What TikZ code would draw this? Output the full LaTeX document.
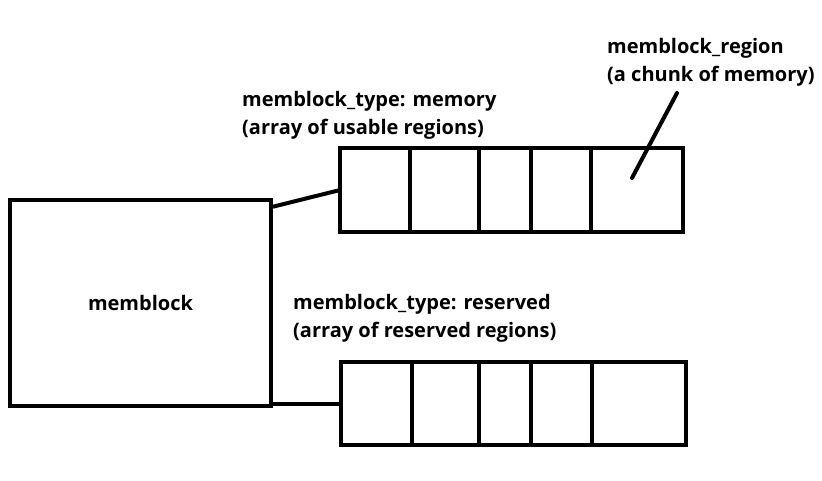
\documentclass[tikz,border=0pt]{standalone}
\usepackage{fontspec}
\setmainfont{Open Sans}
\usetikzlibrary{ positioning, % For easy node-relative placements
               }
\tikzstyle{cell} = [rectangle, draw=black, line width=4pt, outer sep=0pt, inner sep=0pt]
\tikzstyle{block} = [rectangle, draw=black, line width=4pt, minimum width=261pt, minimum height=206pt, font=\bfseries\fontsize{20}{28}\selectfont]
\tikzstyle{note} = [align=left, anchor=north west, inner sep=0pt, font=\bfseries\fontsize{20}{28}\selectfont]
\tikzstyle{link} = [line width=4pt]

\begin{document}
\begin{tikzpicture}[x=1pt, y=-1pt]
  \useasboundingbox (0,0) rectangle (822,480);

  \node (mb) [block] at (140.5, 303) {memblock};

  % memory array
  \node (m1) [cell, minimum width=70pt, minimum height=84pt] at (375, 190) {};
  \node (m2) [cell, minimum width=69pt, minimum height=84pt, right=0pt of m1] {};
  \node (m3) [cell, minimum width=52pt, minimum height=84pt, right=0pt of m2] {};
  \node (m4) [cell, minimum width=60pt, minimum height=84pt, right=0pt of m3] {};
  \node (m5) [cell, minimum width=92pt, minimum height=84pt, right=0pt of m4] {};
  \node (mt) [note] at (242, 91) {memblock\_type: memory\\(array of usable regions)};

  % reserved array
  \node (r1) [cell, minimum width=71pt, minimum height=83pt] at (376.5, 403.5) {};
  \node (r2) [cell, minimum width=67pt, minimum height=83pt, right=0pt of r1] {};
  \node (r3) [cell, minimum width=52pt, minimum height=83pt, right=0pt of r2] {};
  \node (r4) [cell, minimum width=61pt, minimum height=83pt, right=0pt of r3] {};
  \node (r5) [cell, minimum width=94pt, minimum height=83pt, right=0pt of r4] {};
  \node (rt) [note] at (293, 294) {memblock\_type: reserved\\(array of reserved regions)};

  \draw [link] (mb.36) -- (m1.west);
  \draw [link] (r1.west -| mb.east) -- (r1.west);

  % one region
  \node (rg) [note] at (607, 38) {memblock\_region\\(a chunk of memory)};
  \coordinate (tip) at (632, 178);
  \coordinate (tail) at (677, 93);
  \draw [link, line cap=round] (tip) -- (tail);
\end{tikzpicture}
\end{document}
